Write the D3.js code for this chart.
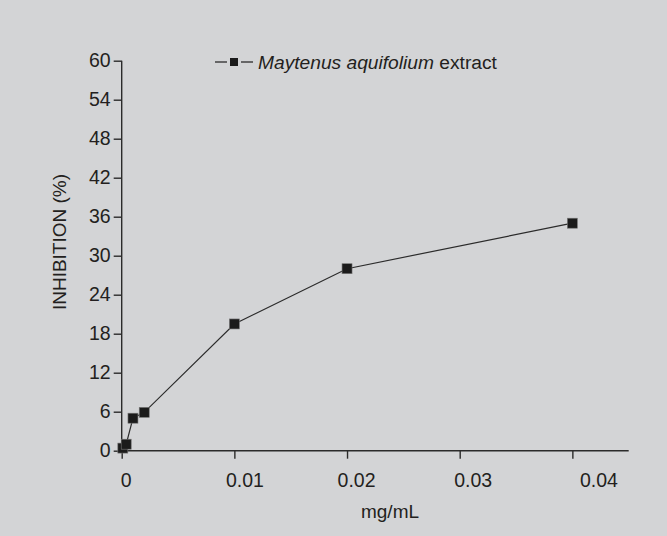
<!DOCTYPE html>
<html><head><meta charset="utf-8">
<script src="https://cdn.jsdelivr.net/npm/d3@7"></script>
<style>
html,body{margin:0;padding:0;background:#d3d4d6;}
svg{display:block;}
text{font-family:"Liberation Sans",Arial,sans-serif;fill:#231f20;}
</style></head><body>
<svg id="c" width="667" height="536"></svg>
<script>
const concentration = [0.0001, 0.0004, 0.001, 0.002, 0.01, 0.02, 0.04];
const inhibition    = [0.4, 1.0, 5.0, 5.9, 19.5, 28.0, 35.0];
const xTicks = [0, 0.01, 0.02, 0.03, 0.04];
const xTickLabels = ["0", "0.01", "0.02", "0.03", "0.04"];
const yTicks = [0, 6, 12, 18, 24, 30, 36, 42, 48, 54, 60];
const seriesName = ["Maytenus aquifolium", " extract"];
const xTitle = "mg/mL";
const yTitle = "INHIBITION (%)";

const W = 667, H = 536;
const m = {left:121.7, right:667-628.7, top:60.7, bottom:536-450.7};
const svg = d3.select("#c");
svg.append("rect").attr("width",W).attr("height",H).attr("fill","#d3d4d6");

const x = d3.scaleLinear().domain([0,0.045]).range([m.left, W-m.right]);
const y = d3.scaleLinear().domain([0,60]).range([H-m.bottom, m.top]);
const ink = "#2b2b2b";
const FF = "'Liberation Sans',Arial,sans-serif";
const labelShift = [4, 10, 9, 13, 26]; // label offsets as printed in the source figure

// X axis
const gx = svg.append("g").attr("transform",`translate(0,${y(0)})`);
gx.call(d3.axisBottom(x).tickValues(d3.range(0,0.0451,0.005)).tickSize(5).tickFormat(""))
  .call(g=>g.select(".domain").remove());
gx.call(d3.axisBottom(x).tickValues(xTicks).tickSize(8).tickFormat((d,i)=>xTickLabels[i]).tickPadding(14).tickSizeOuter(0))
  .call(g=>g.select(".domain").attr("d",`M${x(0)},0H${x(0.045)}`));
gx.selectAll("line,path").attr("stroke",ink).attr("stroke-width",1.4);
gx.selectAll("text").attr("font-size",19.5).attr("fill","#231f20").attr("dx",(d,i)=>labelShift[i])
  .attr("font-family",FF);

// Y axis
const gy = svg.append("g").attr("transform",`translate(${x(0)},0)`);
gy.call(d3.axisLeft(y).tickValues(d3.range(0,60.1,3)).tickSize(4).tickFormat(""))
  .call(g=>g.select(".domain").remove());
gy.call(d3.axisLeft(y).tickValues(yTicks).tickSize(8).tickPadding(3).tickSizeOuter(0))
  .call(g=>g.select(".domain").attr("d",`M0,${y(0)}V${y(60)}`));
gy.selectAll("line,path").attr("stroke",ink).attr("stroke-width",1.4);
gy.selectAll("text").attr("font-size",19.5).attr("fill","#231f20")
  .attr("font-family",FF);

// Titles
svg.append("text").attr("x",390).attr("y",518).attr("text-anchor","middle")
  .attr("font-size",19).text(xTitle);
svg.append("text").attr("transform",`translate(66,242) rotate(-90)`)
  .attr("text-anchor","middle").attr("font-size",19).text(yTitle);

// Data
const data = concentration.map((c,i)=>({c, v:inhibition[i]}));
svg.append("path").datum(data)
  .attr("d", d3.line().x(d=>x(d.c)).y(d=>y(d.v)))
  .attr("fill","none").attr("stroke",ink).attr("stroke-width",1.2);
const ms = 10;
svg.selectAll("rect.pt").data(data).join("rect").attr("class","pt")
  .attr("x",d=>x(d.c)-ms/2).attr("y",d=>y(d.v)-ms/2)
  .attr("width",ms).attr("height",ms)
  .attr("fill","#1b1b1b").attr("stroke","#777").attr("stroke-width",0.6);

// Legend
const lg = svg.append("g");
lg.append("line").attr("x1",215).attr("x2",227).attr("y1",62).attr("y2",62)
  .attr("stroke",ink).attr("stroke-width",1.3);
lg.append("line").attr("x1",241).attr("x2",253).attr("y1",62).attr("y2",62)
  .attr("stroke",ink).attr("stroke-width",1.3);
lg.append("rect").attr("x",234-4).attr("y",62-4).attr("width",8).attr("height",8).attr("fill","#1b1b1b");
const lt = lg.append("text").attr("x",258).attr("y",68.5).attr("font-size",19.2);
lt.append("tspan").attr("font-style","italic").text(seriesName[0]);
lt.append("tspan").text(seriesName[1]);
</script>
</body></html>
